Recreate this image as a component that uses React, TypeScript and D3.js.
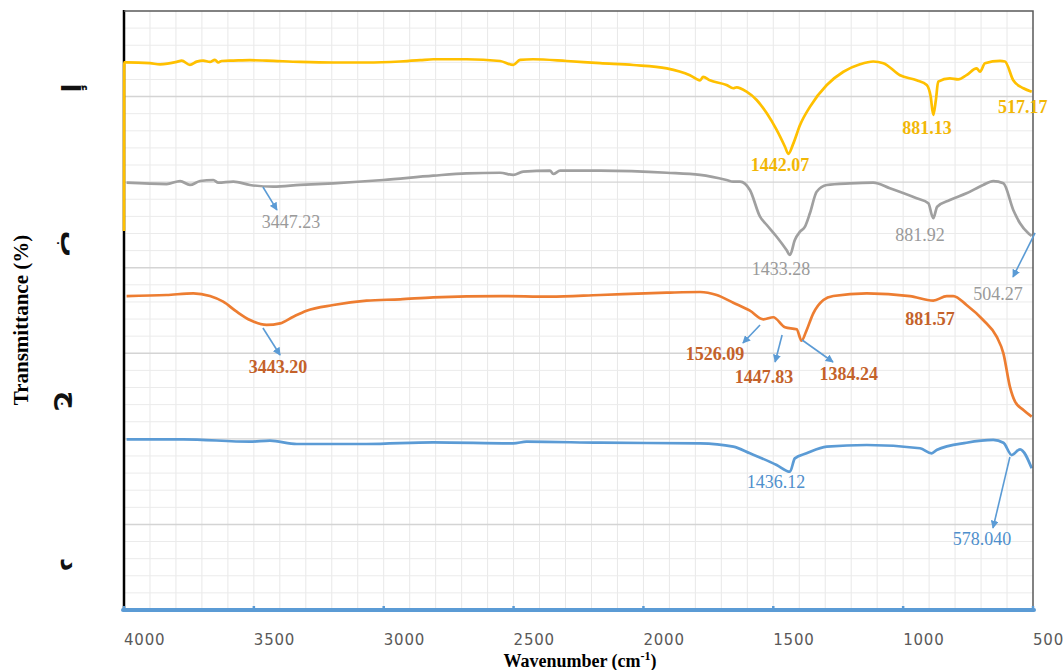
import React, { useRef, useEffect } from "react";
import * as d3 from "d3";

type Pt = [number, number];

// x ticks (wavenumber, cm-1) and the rotated y labels (top to bottom)
const xTicks = [4000, 3500, 3000, 2500, 2000, 1500, 1000, 500];
const yTickLabels = ["أ", "ب", "ج", "د"];
const yTickValues = [61, 42.8, 24.5, 5.3];

// spectra, [wavenumber, offset transmittance]
const seriesD: Pt[] = [
  [4000, 44.3], [3999, 64.0], [3990, 64.0], [3900, 63.9], [3861, 63.77], [3797, 64.05], [3778, 64.2],
  [3746, 63.7], [3720, 64.08], [3695, 64.2], [3669, 64.05], [3650, 64.3], [3637, 63.98], [3624, 64.16],
  [3579, 64.2], [3515, 64.25], [3451, 64.2], [3322, 64.05], [3194, 63.98], [3066, 63.98], [2937, 64.1],
  [2860, 64.25], [2809, 64.36], [2681, 64.36], [2552, 64.16], [2501, 63.7], [2475, 64.29], [2425, 64.36],
  [2296, 64.16], [2167, 63.9], [2039, 63.69], [1910, 63.3], [1821, 62.5], [1782, 61.9], [1770, 62.3],
  [1744, 61.9], [1680, 61.35], [1654, 60.97], [1641, 61.08], [1603, 60.57], [1564, 59.6], [1525, 58.04],
  [1487, 56.1], [1455, 54.14], [1442, 53.3], [1423, 54.5], [1397, 56.68], [1359, 58.8], [1294, 61.35],
  [1230, 62.9], [1166, 63.77], [1115, 64.1], [1076, 63.9], [1012, 62.5], [948, 61.9], [909, 61.35],
  [894, 60.0], [884, 57.85], [874, 59.6], [865, 61.74], [820, 62.12], [788, 62.0], [756, 62.5],
  [717, 63.3], [704, 62.9], [685, 63.9], [627, 64.16], [608, 64.1], [576, 61.9], [537, 60.97], [505, 60.57],
];

const seriesC: Pt[] = [
  [3990, 49.94], [3836, 49.78], [3784, 50.13], [3746, 49.67], [3707, 50.13], [3656, 50.25], [3637, 49.94],
  [3579, 50.06], [3515, 49.67], [3425, 49.47], [3322, 49.67], [3194, 49.86], [3002, 50.25], [2809, 50.76],
  [2681, 51.03], [2552, 51.1], [2501, 50.84], [2463, 51.22], [2360, 51.34], [2347, 50.95], [2321, 51.34],
  [2167, 51.34], [1910, 51.1], [1782, 50.84], [1680, 50.25], [1654, 50.06], [1628, 50.06], [1590, 49.08],
  [1551, 45.96], [1525, 44.99], [1487, 43.62], [1449, 42.07], [1436, 41.49], [1417, 43.24], [1397, 44.21],
  [1378, 44.8], [1359, 46.36], [1333, 48.88], [1294, 49.67], [1205, 49.86], [1115, 49.94], [1051, 49.28],
  [948, 48.11], [903, 47.53], [884, 45.78], [869, 47.13], [820, 47.91], [756, 48.69], [692, 49.67],
  [653, 50.13], [614, 49.86], [576, 46.75], [550, 45.19], [518, 44.02], [505, 43.71],
];

const seriesB: Pt[] = [
  [3990, 36.69], [3836, 36.81], [3733, 37.01], [3669, 36.69], [3618, 36.03], [3566, 34.86], [3515, 33.89],
  [3451, 33.31], [3399, 33.5], [3348, 34.28], [3297, 34.98], [3194, 35.64], [3066, 36.15], [2937, 36.31],
  [2809, 36.54], [2552, 36.69], [2360, 36.61], [2167, 36.81], [1910, 37.08], [1782, 37.16], [1718, 36.81],
  [1654, 35.91], [1590, 34.98], [1538, 33.97], [1500, 34.21], [1455, 33.04], [1410, 32.8], [1391, 31.47],
  [1374, 32.52], [1346, 34.67], [1307, 36.23], [1269, 36.69], [1140, 37.01], [974, 36.69], [884, 36.15],
  [832, 36.69], [807, 36.69], [756, 35.64], [692, 33.89], [640, 31.94], [614, 30.0], [589, 26.1],
  [569, 24.34], [537, 23.37], [505, 22.59],
];

const seriesA: Pt[] = [
  [3990, 19.95], [3772, 19.95], [3515, 19.67], [3438, 19.79], [3335, 19.4], [3066, 19.4], [2809, 19.6],
  [2501, 19.48], [2450, 19.67], [2167, 19.55], [1782, 19.48], [1654, 19.09], [1590, 18.31], [1487, 16.95],
  [1436, 16.16], [1417, 17.72], [1372, 18.31], [1294, 19.09], [1140, 19.28], [935, 18.9], [890, 18.31],
  [871, 18.7], [756, 19.55], [653, 19.87], [614, 19.55], [582, 18.11], [550, 18.78], [505, 16.56],
];

// peak labels: text, series key, anchor in data units
const peakLabels: { text: string; key: string; at: Pt }[] = [
  { text: "1442.07", key: "d", at: [1474, 51.3] },
  { text: "881.13", key: "d", at: [908, 55.63] },
  { text: "517.17", key: "d", at: [539, 58.08] },
  { text: "3447.23", key: "c", at: [3357, 44.64] },
  { text: "1433.28", key: "c", at: [1470, 39.15] },
  { text: "881.92", key: "c", at: [935, 43.12] },
  { text: "504.27", key: "c", at: [635, 36.23] },
  { text: "3443.20", key: "b", at: [3407, 27.7] },
  { text: "1526.09", key: "b", at: [1724, 29.22] },
  { text: "1447.83", key: "b", at: [1536, 26.53] },
  { text: "1384.24", key: "b", at: [1209, 26.88] },
  { text: "881.57", key: "b", at: [897, 33.31] },
  { text: "1436.12", key: "a", at: [1490, 14.26] },
  { text: "578.040", key: "a", at: [696, 7.6] },
];

const peakArrows: { from: Pt; to: Pt }[] = [
  { from: [3465, 49.43], to: [3411, 46.75] },
  { from: [492, 44.06], to: [577, 38.92] },
  { from: [3465, 32.96], to: [3399, 29.8] },
  { from: [1551, 33.31], to: [1617, 31.2] },
  { from: [1466, 32.14], to: [1493, 28.98] },
  { from: [1389, 31.55], to: [1270, 28.98] },
  { from: [589, 17.88], to: [654, 9.58] },
];

const lineColors: Record<string, string> = { a: "#5b9bd5", b: "#ed7d31", c: "#a0a0a0", d: "#ffc000" };
const labelColors: Record<string, string> = { a: "#4f8fcc", b: "#c4622a", c: "#9a9a9a", d: "#f2b705" };
const labelWeights: Record<string, string> = { a: "normal", b: "bold", c: "normal", d: "bold" };

const App = () => {
  const svgRef = useRef<SVGSVGElement>(null);

  useEffect(() => {
    const svg = d3.select(svgRef.current);
    svg.selectAll("*").remove();

    const left = 124;
    const right = 1033;
    const top = 11;
    const bottom = 610;

    const x = d3.scaleLinear().domain([4000, 500]).range([left, right]);
    const y = d3.scaleLinear().domain([0, 70]).range([bottom, top]);

    svg.append("rect").attr("width", 1063).attr("height", 670).attr("fill", "#fff");

    // grid
    const grid = svg.append("g");
    d3.range(3900, 500, -100).forEach((w) => {
      grid.append("line")
        .attr("x1", x(w)).attr("x2", x(w))
        .attr("y1", top).attr("y2", bottom)
        .attr("stroke", "#e8e8e8").attr("stroke-width", 1);
    });
    d3.range(2, 70, 2).forEach((v) => {
      const major = v % 10 === 0;
      grid.append("line")
        .attr("x1", left).attr("x2", right)
        .attr("y1", y(v)).attr("y2", y(v))
        .attr("stroke", major ? "#d4d4d4" : "#ebebeb")
        .attr("stroke-width", major ? 1.4 : 1);
    });

    // left axis (black)
    svg.append("line")
      .attr("x1", left).attr("x2", left).attr("y1", top - 1).attr("y2", bottom)
      .attr("stroke", "#000").attr("stroke-width", 2.5);

    // spectra
    const line = d3.line<Pt>()
      .x((d) => x(d[0]))
      .y((d) => y(d[1]))
      .curve(d3.curveMonotoneX);
    const all: [string, Pt[]][] = [["a", seriesA], ["b", seriesB], ["c", seriesC], ["d", seriesD]];
    all.forEach(([k, data]) => {
      svg.append("path")
        .datum(data)
        .attr("d", line)
        .attr("fill", "none")
        .attr("stroke", lineColors[k])
        .attr("stroke-width", 2.7)
        .attr("stroke-linejoin", "round");
    });

    // top / right border
    svg.append("path")
      .attr("d", `M${left},${top}H${right}V${bottom}`)
      .attr("fill", "none").attr("stroke", "#5a5a5a").attr("stroke-width", 1.5);

    // bottom axis (blue)
    svg.append("line")
      .attr("x1", left - 1).attr("x2", right + 1).attr("y1", bottom).attr("y2", bottom)
      .attr("stroke", "#5b9bd5").attr("stroke-width", 4).attr("stroke-linecap", "round");
    xTicks.forEach((t) => {
      svg.append("line")
        .attr("x1", x(t)).attr("x2", x(t)).attr("y1", bottom - 4).attr("y2", bottom)
        .attr("stroke", "#5b9bd5").attr("stroke-width", 2.5);
      svg.append("text")
        .attr("x", x(t)).attr("y", 645)
        .attr("font-family", "DejaVu Sans").attr("font-size", 15)
        .attr("letter-spacing", 0.8)
        .attr("fill", "#595959")
        .text(t);
    });

    // y labels, rotated clockwise
    yTickLabels.forEach((lab, i) => {
      svg.append("text")
        .attr("transform", `translate(70,${y(yTickValues[i])}) rotate(90)`)
        .attr("text-anchor", "middle").attr("dominant-baseline", "central")
        .attr("font-family", "DejaVu Sans").attr("font-weight", "bold").attr("font-size", 26)
        .attr("fill", "#111")
        .text(lab);
    });

    // axis titles
    svg.append("text")
      .attr("transform", `translate(28,320) rotate(-90)`)
      .attr("text-anchor", "middle")
      .attr("font-family", "Liberation Serif").attr("font-weight", "bold").attr("font-size", 21)
      .text("Transmittance (%)");
    const xt = svg.append("text")
      .attr("x", 580).attr("y", 667)
      .attr("text-anchor", "middle")
      .attr("font-family", "Liberation Serif").attr("font-weight", "bold").attr("font-size", 18);
    xt.append("tspan").text("Wavenumber (cm");
    xt.append("tspan").attr("font-size", 12).attr("dy", -7).text("-1");
    xt.append("tspan").attr("dy", 7).text(")");

    // arrows
    svg.append("defs").append("marker")
      .attr("id", "head").attr("viewBox", "0 0 10 10")
      .attr("refX", 9).attr("refY", 5)
      .attr("markerWidth", 5).attr("markerHeight", 5)
      .attr("markerUnits", "strokeWidth")
      .attr("orient", "auto")
      .append("path").attr("d", "M0,0L10,5L0,10Z").attr("fill", "#5b9bd5");
    peakArrows.forEach((a) => {
      svg.append("line")
        .attr("x1", x(a.from[0])).attr("y1", y(a.from[1]))
        .attr("x2", x(a.to[0])).attr("y2", y(a.to[1]))
        .attr("stroke", "#5b9bd5").attr("stroke-width", 1.6)
        .attr("marker-end", "url(#head)");
    });

    // peak labels
    peakLabels.forEach((p) => {
      svg.append("text")
        .attr("x", x(p.at[0])).attr("y", y(p.at[1]))
        .attr("text-anchor", "middle")
        .attr("font-family", "Liberation Serif")
        .attr("font-weight", labelWeights[p.key])
        .attr("font-size", 18)
        .attr("fill", labelColors[p.key])
        .text(p.text);
    });
  }, []);

  return (
    <svg
      ref={svgRef}
      width={1063}
      height={670}
      style={{ position: "absolute", left: 0, top: 0 }}
    ></svg>
  );
};

export default App;
